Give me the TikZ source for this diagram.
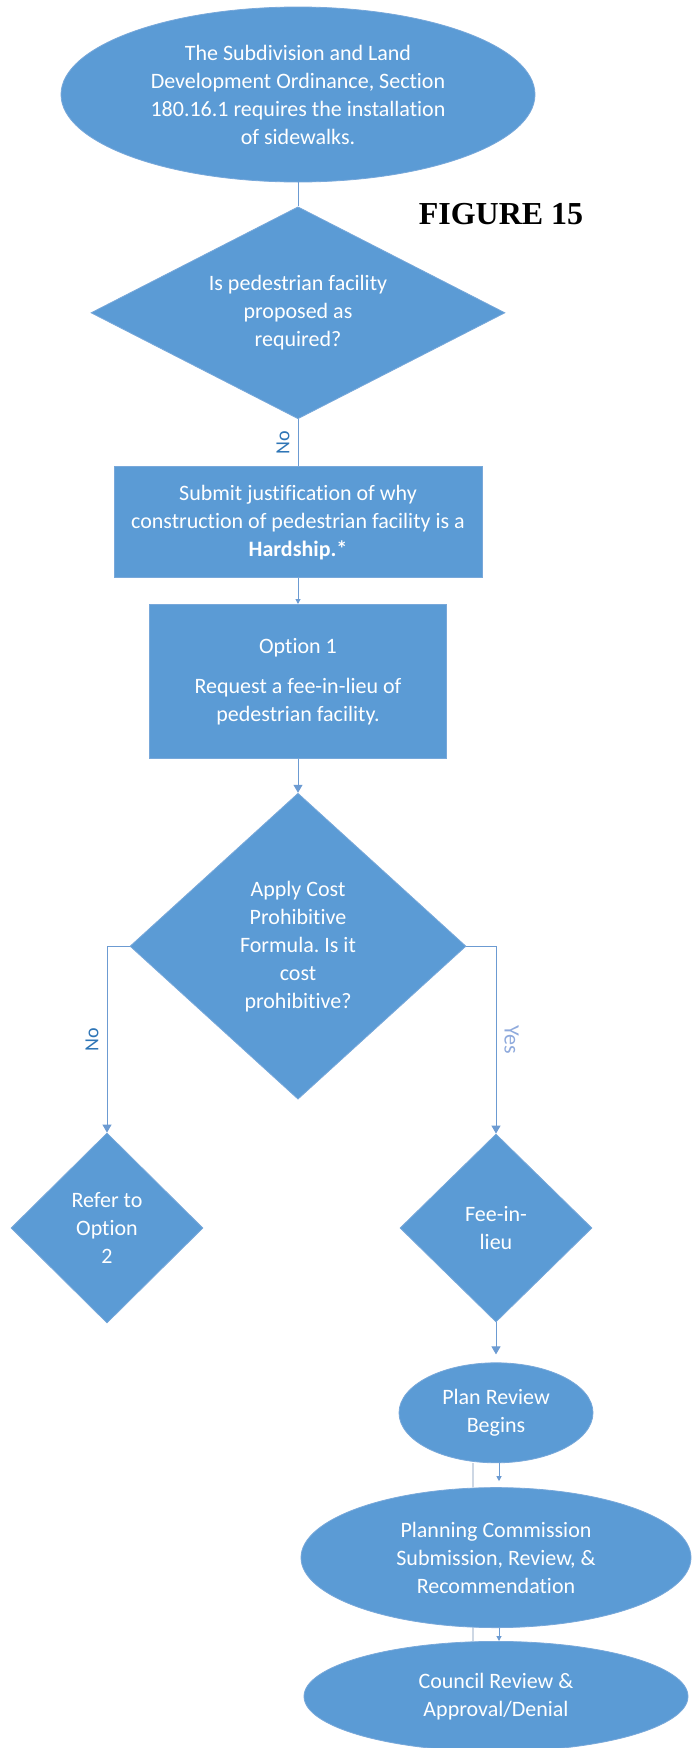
\documentclass[tikz,border=0pt]{standalone}
\usepackage{fontspec}
\setmainfont[Ligatures=NoCommon]{Carlito}
\newfontfamily\figfont{Liberation Serif}
\usepackage{xcolor}
\usetikzlibrary{arrows.meta,positioning,shapes.geometric}
\definecolor{fillblue}{RGB}{91,155,213}
\definecolor{edgeblue}{RGB}{120,168,218}
\definecolor{lineblue}{RGB}{108,155,210}
\definecolor{nocol}{RGB}{46,117,182}
\definecolor{yescol}{RGB}{143,170,220}
\definecolor{faintcol}{RGB}{205,215,228}
\frenchspacing
\begin{document}
\begin{tikzpicture}[x=1pt,y=-1pt,font=\fontsize{22}{28}\selectfont,
  sh/.style={fill=fillblue,draw=edgeblue,line width=.8pt,text=white,align=center,inner sep=0pt},
  ell/.style={sh,ellipse},box/.style={sh,rectangle},dia/.style={sh,diamond},
  ln/.style={draw=lineblue,line width=1pt},
  arr/.style={ln,-{Triangle[width=9pt,length=8pt]}},
  sarr/.style={ln,-{Triangle[width=5pt,length=5pt]}},
  faint/.style={draw=faintcol,line width=1.5pt},
  lbl/.style={font=\fontsize{20}{24}\selectfont,inner sep=8pt,anchor=south}]
  \useasboundingbox (0,0) rectangle (692,1748);
  \node[ell,minimum width=474pt,minimum height=175pt] (ord) at (298,94.5) {The Subdivision and Land\\Development Ordinance, Section\\180.16.1 requires the installation\\of sidewalks.};
  \node[font=\fontsize{32}{36}\figfont\bfseries] (fig) at (501,214) {FIGURE 15};
  \node[dia,aspect=2,minimum width=414pt,minimum height=212pt,below=24pt of ord] (ped) {Is pedestrian facility\\proposed as\\required?};
  \node[box,minimum width=368pt,minimum height=111pt,below=47pt of ped] (hard) {Submit justification of why\\construction of pedestrian facility is a\\\textbf{Hardship.*}};
  \node[box,minimum width=297pt,minimum height=154pt,below=26pt of hard] (opt) {Option 1\\[12pt]Request a fee-in-lieu of\\pedestrian facility.};
  \node[dia,aspect=1.1,minimum width=336pt,minimum height=306pt,below=34pt of opt] (cost) {Apply Cost\\Prohibitive\\Formula. Is it\\cost\\prohibitive?};
  \node[dia,minimum width=192pt,minimum height=190pt] (ref) at (107,1228) {Refer to\\Option\\2};
  \node[dia,minimum width=192pt,minimum height=188pt] (fee) at (496,1228) {Fee-in-\\lieu};
  \node[ell,minimum width=194pt,minimum height=100pt,below=40pt of fee] (plan) {Plan Review\\Begins};
  \node[ell,minimum width=390pt,minimum height=140pt,below=24pt of plan] (pc) {Planning Commission\\Submission, Review, \&\\Recommendation};
  \node[ell,minimum width=384pt,minimum height=110pt,below=13pt of pc] (cr) {Council Review \&\\Approval/Denial};
  \draw[ln](ord)--(ped);
  \draw[ln](ped)--node[lbl,rotate=90,text=nocol]{No}(hard);
  \draw[sarr](hard)--(opt);\draw[arr](opt)--(cost);
  \draw[arr](cost.west)-|node[lbl,rotate=90,text=nocol,pos=.75]{No}(ref.north);
  \draw[arr](cost.east)-|node[lbl,rotate=-90,text=yescol,pos=.75,inner sep=8pt,font=\fontsize{22}{24}\selectfont]{Yes}(fee.north);
  \draw[arr,shorten >=8pt](fee)--(plan);
  \draw[faint]([xshift=-23pt]plan.south)--([xshift=-23pt]pc.north);
  \draw[faint]([xshift=-23pt]pc.south)--([xshift=-23pt]cr.north);
  \draw[sarr,shorten >=6pt]([xshift=3pt]plan.south)--([xshift=3pt]pc.north);
  \draw[sarr]([xshift=3pt]pc.south)--([xshift=3pt]cr.north);
\end{tikzpicture}
\end{document}
